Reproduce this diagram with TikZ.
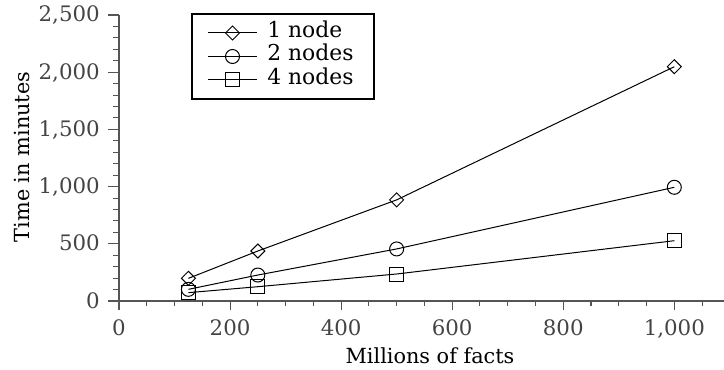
\documentclass[tikz,border=0pt]{standalone}
\usepackage{fontspec}
\setmainfont{DejaVu Serif}
\usetikzlibrary{shapes.geometric}
\definecolor{axisgray}{HTML}{555555}
\definecolor{labelgray}{HTML}{444444}
\tikzset{
  axisline/.style={draw=axisgray, line width=1.1pt},
  tickmark/.style={draw=axisgray, line width=0.8pt},
  ticklabel/.style={text=labelgray, font=\fontsize{16}{19}\selectfont, inner sep=0pt},
  axislabel/.style={text=black, font=\fontsize{15.6}{19}\selectfont, inner sep=0pt},
  legendtext/.style={text=black, font=\fontsize{16.4}{19}\selectfont, inner sep=0pt, anchor=base west},
  series/.style={draw=black, line width=0.75pt},
  mk/.style={draw=black, line width=0.75pt, inner sep=0pt, outer sep=0pt, fill=none},
  mkdiamond/.style={mk, diamond, minimum width=10.5pt, minimum height=10.5pt},
  mkcircle/.style={mk, circle, minimum size=10.5pt},
  mksquare/.style={mk, rectangle, minimum size=10.5pt},
}
\begin{document}
\begin{tikzpicture}[x=0.75pt, y=-0.75pt]
\useasboundingbox (0,0) rectangle (724,370);

% axes
\coordinate (origin) at (119,301);
\coordinate (xend) at (724,301);
\coordinate (ytop) at (119,15);
\draw[axisline] (origin) -- (xend);
\draw[axisline] (origin) -- (ytop);

% data coordinate system: millions of facts to the right, minutes upward
\begin{scope}[shift={(119,301)}, x=0.41648pt, y=0.0858pt]
  % x ticks
  \foreach \v in {50,100,...,1050}
    \draw[tickmark] (\v,0) -- ++(0pt,-3.75pt);
  \foreach \v/\t in {0/0,200/200,400/400,600/600,800/800,1000/{1,000}} {
    \draw[tickmark] (\v,0) -- ++(0pt,-6.75pt);
    \node[ticklabel, anchor=base] (xl\v) at ([yshift=-25.5pt]\v,0) {\t};
  }
  % y ticks
  \foreach \v in {100,200,...,2500}
    \draw[tickmark] (0,\v) -- ++(-4.5pt,0pt);
  \foreach \v/\t in {0/0,500/500,1000/{1,000},1500/{1,500},2000/{2,000},2500/{2,500}} {
    \draw[tickmark] (0,\v) -- ++(-8.25pt,0pt);
    \node[ticklabel, anchor=base east] (yl\v) at ([xshift=-14.25pt, yshift=-5.25pt]0,\v) {\t};
  }

  % 1 node
  \node[mkdiamond] (a1) at (125,198) {};
  \node[mkdiamond] (a2) at (250,437) {};
  \node[mkdiamond] (a3) at (500,884) {};
  \node[mkdiamond] (a4) at (1000,2048) {};
  % 2 nodes
  \node[mkcircle] (b1) at (125,102) {};
  \node[mkcircle] (b2) at (250,227) {};
  \node[mkcircle] (b3) at (500,455) {};
  \node[mkcircle] (b4) at (1000,994) {};
  % 4 nodes
  \node[mksquare] (c1) at (125,73) {};
  \node[mksquare] (c2) at (250,125) {};
  \node[mksquare] (c3) at (500,236) {};
  \node[mksquare] (c4) at (1000,527) {};

  \draw[series] (a1.center) -- (a2.center) -- (a3.center) -- (a4.center);
  \draw[series] (b1.center) -- (b2.center) -- (b3.center) -- (b4.center);
  \draw[series] (c1.center) -- (c2.center) -- (c3.center) -- (c4.center);
\end{scope}

% axis titles
\node[axislabel] (xtitle) at (430,356) {Millions of facts};
\node[axislabel, rotate=90] (ytitle) at (22,157) {Time in minutes};

% legend
\coordinate (lgtl) at (192,14);
\coordinate (lgbr) at (374,99);
\draw[black, line width=0.8pt] (lgtl) rectangle (lgbr);

\coordinate (la1) at (208,33);   \coordinate (la2) at (257,33);
\coordinate (lb1) at (208,56.5); \coordinate (lb2) at (257,56.5);
\coordinate (lc1) at (208,80);   \coordinate (lc2) at (257,80);
\draw[series] (la1) -- (la2);
\draw[series] (lb1) -- (lb2);
\draw[series] (lc1) -- (lc2);
\node[mkdiamond] (lma) at (232.5,33) {};
\node[mkcircle] (lmb) at (232.5,56.5) {};
\node[mksquare] (lmc) at (232.5,80) {};
\node[legendtext] (lta) at (267,37.5) {1 node};
\node[legendtext] (ltb) at (267,61) {2 nodes};
\node[legendtext] (ltc) at (267,84.5) {4 nodes};
\end{tikzpicture}
\end{document}
